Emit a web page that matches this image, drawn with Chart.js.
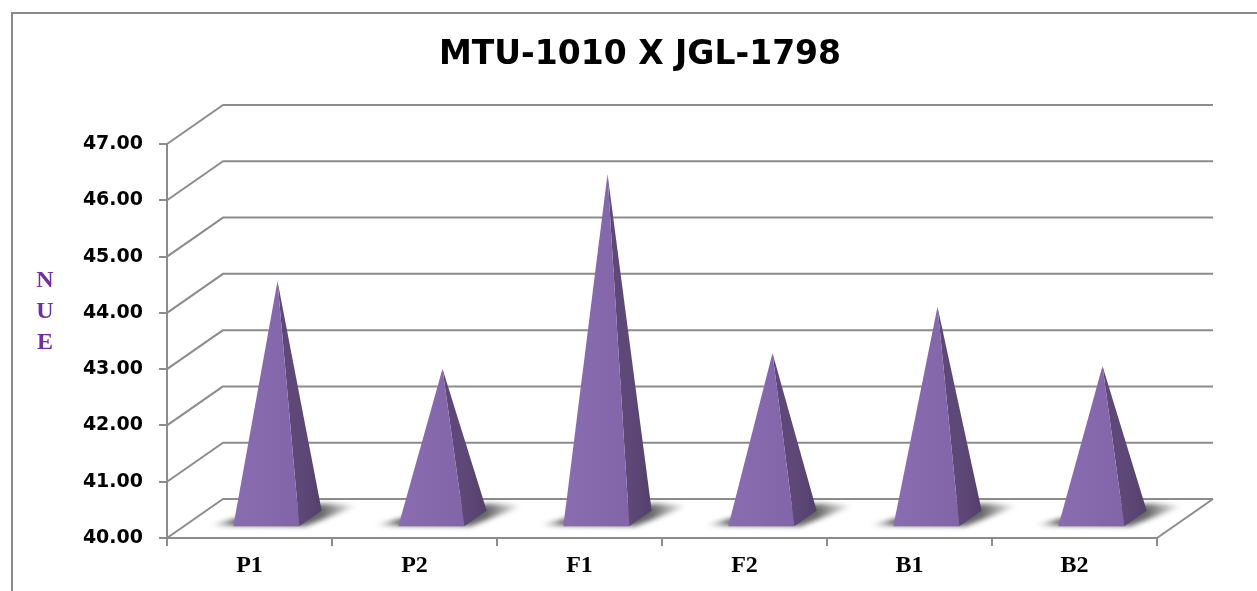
<!DOCTYPE html>
<html>
<head>
<meta charset="utf-8">
<script src="https://cdn.jsdelivr.net/npm/chart.js@4"></script>
<style>
  html, body { margin: 0; padding: 0; background: #ffffff; }
  canvas { display: block; }
</style>
</head>
<body>
<canvas id="nueChart" width="1257" height="591"></canvas>
<script>
// データ
const categories = ['P1', 'P2', 'F1', 'F2', 'B1', 'B2'];
const nueValues = [44.22, 42.66, 46.12, 42.94, 43.76, 42.71];
const yMin = 40;
const yMax = 47;
const yStep = 1;
const axisTitleLetters = ['N', 'U', 'E'];

// 奥行き（3D風）
const DEPTH_X = 56;
const DEPTH_Y = -39;
const GRID_COLOR = '#8c8c8c';

function poly(ctx, pts) {
    ctx.beginPath();
    ctx.moveTo(pts[0][0], pts[0][1]);
    for (let i = 1; i < pts.length; i++) ctx.lineTo(pts[i][0], pts[i][1]);
    ctx.closePath();
}

const pyramid3d = {
    id: 'pyramid3d',
    beforeDraw(chart) {
        const ctx = chart.ctx;
        ctx.save();
        ctx.fillStyle = '#ffffff';
        ctx.fillRect(0, 0, chart.width, chart.height);
        // 外枠
        ctx.strokeStyle = '#8a8a8a';
        ctx.lineWidth = 2;
        ctx.beginPath();
        ctx.moveTo(12, chart.height);
        ctx.lineTo(12, 13);
        ctx.lineTo(chart.width, 13);
        ctx.stroke();
        // 軸タイトル（縦書き）
        ctx.fillStyle = '#7030A0';
        ctx.font = 'bold 24px "Liberation Serif", serif';
        ctx.textAlign = 'center';
        ctx.textBaseline = 'middle';
        axisTitleLetters.forEach((ch, i) => ctx.fillText(ch, 45, 281 + i * 31));
        ctx.restore();
    },
    beforeDatasetsDraw(chart) {
        const ctx = chart.ctx;
        const area = chart.chartArea;
        const y = chart.scales.y;
        ctx.save();
        ctx.strokeStyle = GRID_COLOR;
        ctx.lineWidth = 2;
        ctx.lineJoin = 'round';
        y.ticks.forEach(t => {
            const py = y.getPixelForValue(t.value);
            ctx.beginPath();
            ctx.moveTo(area.left, py);
            ctx.lineTo(area.left + DEPTH_X, py + DEPTH_Y);
            ctx.lineTo(area.right + DEPTH_X, py + DEPTH_Y);
            ctx.stroke();
        });
        // 床の右端
        const by = y.getPixelForValue(yMin);
        ctx.beginPath();
        ctx.moveTo(area.right, by);
        ctx.lineTo(area.right + DEPTH_X, by + DEPTH_Y);
        ctx.stroke();
        ctx.restore();
    },
    afterDatasetsDraw(chart) {
        const ctx = chart.ctx;
        const y = chart.scales.y;
        const base = y.getPixelForValue(yMin);
        const meta = chart.getDatasetMeta(0);
        const f0 = 0.3, f1 = 0.7, fm = 0.5;
        meta.data.forEach((bar, i) => {
            const w = bar.width;
            const xc = bar.x;
            const FL = [xc - w / 2 + f0 * DEPTH_X, base + f0 * DEPTH_Y];
            const FR = [xc + w / 2 + f0 * DEPTH_X, base + f0 * DEPTH_Y];
            const BR = [xc + w / 2 + f1 * DEPTH_X, base + f1 * DEPTH_Y];
            const BL = [xc - w / 2 + f1 * DEPTH_X, base + f1 * DEPTH_Y];
            const apex = [xc + fm * DEPTH_X, y.getPixelForValue(nueValues[i]) + fm * DEPTH_Y];

            // 床の影
            ctx.save();
            ctx.filter = 'blur(2.5px)';
            const sg = ctx.createLinearGradient(FL[0] - 24, 0, BR[0] + 36, 0);
            const span = (BR[0] + 36) - (FL[0] - 24);
            sg.addColorStop(0, 'rgba(40,40,40,0)');
            sg.addColorStop(24 / span, 'rgba(40,40,40,0.75)');
            sg.addColorStop((BR[0] - FL[0] + 24) / span, 'rgba(40,40,40,0.7)');
            sg.addColorStop(1, 'rgba(40,40,40,0)');
            ctx.fillStyle = sg;
            poly(ctx, [[FL[0] - 24, FL[1] - 1], [FR[0] + 6, FR[1]], [BR[0] + 36, BR[1] - 5], [BR[0] + 6, BR[1] - 7], [BL[0], BL[1] - 4], [FL[0] + 4, FL[1] - 8]]);
            ctx.fill();
            ctx.restore();

            ctx.save();
            // 右側面
            const sideGrad = ctx.createLinearGradient(FR[0], 0, BR[0], 0);
            sideGrad.addColorStop(0, '#5e4878');
            sideGrad.addColorStop(1, '#54406c');
            ctx.fillStyle = sideGrad;
            poly(ctx, [FR, BR, apex]);
            ctx.fill();
            // 正面
            const frontGrad = ctx.createLinearGradient(FL[0], 0, FR[0], 0);
            frontGrad.addColorStop(0, '#8a6db0');
            frontGrad.addColorStop(1, '#8264a8');
            ctx.fillStyle = frontGrad;
            poly(ctx, [FL, FR, apex]);
            ctx.fill();
            ctx.restore();
        });
    }
};

const ctx = document.getElementById('nueChart').getContext('2d');
const nueChart = new Chart(ctx, {
    type: 'bar',
    data: {
        labels: categories,
        datasets: [{
            label: 'NUE',
            data: nueValues,
            backgroundColor: 'rgba(0,0,0,0)',
            borderWidth: 0,
            categoryPercentage: 1,
            barPercentage: 0.4
        }]
    },
    options: {
        responsive: false,
        animation: false,
        layout: { padding: { left: 23, right: 0, top: 0, bottom: 0 } },
        plugins: {
            legend: { display: false },
            tooltip: { enabled: false },
            title: {
                display: true,
                text: 'MTU-1010 X JGL-1798',
                color: '#000000',
                font: { family: '"DejaVu Sans", sans-serif', size: 33, weight: 'bold', lineHeight: 1.2 },
                padding: { top: 36, bottom: 68.4 }
            }
        },
        scales: {
            x: {
                afterFit(scale) { scale.height = 53; },
                grid: { drawOnChartArea: false, tickLength: 8, color: GRID_COLOR, lineWidth: 2, offset: true },
                border: { color: GRID_COLOR, width: 2 },
                ticks: {
                    color: '#000000',
                    padding: 5,
                    font: { family: '"Liberation Serif", serif', size: 24, weight: 'bold' }
                }
            },
            y: {
                min: yMin,
                max: yMax,
                afterFit(scale) { scale.width = 144; },
                grid: { drawOnChartArea: false, tickLength: 8, color: GRID_COLOR, lineWidth: 2 },
                border: { color: GRID_COLOR, width: 2 },
                ticks: {
                    stepSize: yStep,
                    color: '#000000',
                    padding: 16,
                    font: { family: '"DejaVu Sans", sans-serif', size: 19, weight: 'bold' },
                    callback: v => Number(v).toFixed(2)
                }
            },
            // 奥行き分の右余白
            yDepth: {
                position: 'right',
                afterFit(scale) { scale.width = 100; },
                grid: { display: false },
                border: { display: false },
                ticks: { display: false }
            }
        }
    },
    plugins: [pyramid3d]
});
</script>
</body>
</html>
